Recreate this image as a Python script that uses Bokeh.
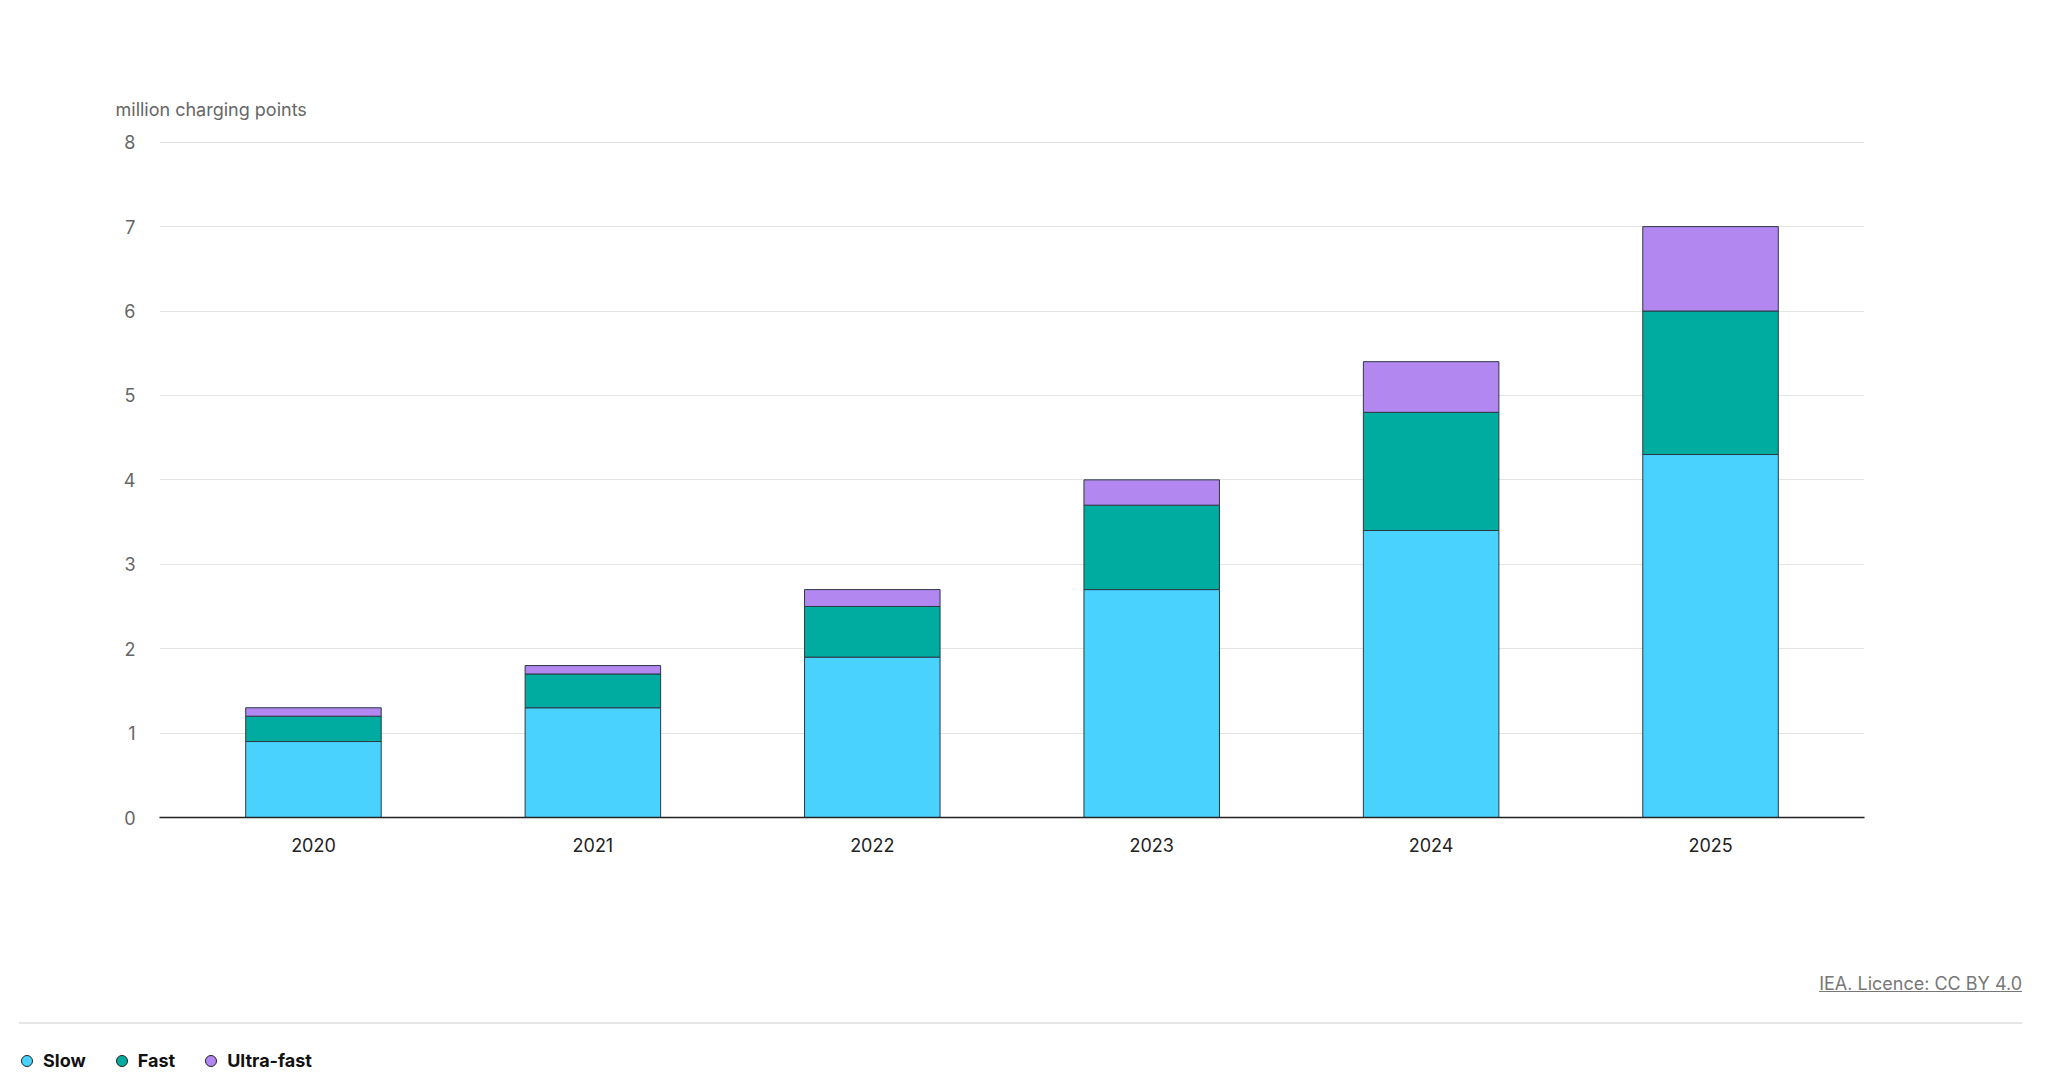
from bokeh.plotting import figure
from bokeh.models import FixedTicker, ColumnDataSource, Div
from bokeh.layouts import column
from bokeh.embed import file_html
from bokeh.resources import INLINE

years = ["2020", "2021", "2022", "2023", "2024", "2025"]
slow = [0.9, 1.3, 1.9, 2.7, 3.4, 4.3]
fast = [0.3, 0.4, 0.6, 1.0, 1.4, 1.7]
ultra = [0.1, 0.1, 0.2, 0.3, 0.6, 1.0]
series = ["Slow", "Fast", "Ultra-fast"]
colors = ["#4ad2ff", "#00ab9f", "#b287ef"]
FONT = "Inter"

W = 2030
p = figure(x_range=years, y_range=(0, 8.02), width=W, height=915, output_backend="svg",
           toolbar_location=None, frame_width=1705, frame_height=677,
           min_border_left=159, min_border_top=140, min_border_bottom=98, min_border_right=166,
           title="million charging points")
src = ColumnDataSource(dict(x=years, Slow=slow, Fast=fast, **{"Ultra-fast": ultra}))
p.vbar_stack(series, x="x", width=0.485, source=src, fill_color=colors,
             line_color="#2b3a44", line_width=1)

p.title.text_font = FONT
p.title.text_font_size = "18px"
p.title.text_font_style = "normal"
p.title.text_color = "#666666"
p.title.offset = -44
p.title.standoff = 42

p.outline_line_color = None
p.xgrid.grid_line_color = None
p.ygrid.grid_line_color = "#e3e3e3"
p.yaxis.ticker = FixedTicker(ticks=list(range(9)))
for ax in (p.xaxis, p.yaxis):
    ax.major_tick_line_color = None
    ax.minor_tick_line_color = None
    ax.major_label_text_font = FONT
    ax.major_label_text_font_size = "18px"
p.yaxis.axis_line_color = None
p.yaxis.major_label_text_color = "#666666"
p.yaxis.major_label_standoff = 18
p.xaxis.axis_line_color = "#222222"
p.xaxis.axis_line_width = 1.5
p.xaxis.major_label_text_color = "#222222"
p.xaxis.major_label_standoff = 14
p.x_range.range_padding = 0.017

def dot(c):
    return (f'<span style="display:inline-block;width:12px;height:12px;border-radius:50%;'
            f'background:{c};border:1px solid #222;margin-right:10px;vertical-align:middle"></span>')

legend_html = "".join(
    f'<span style="margin-right:30px">{dot(c)}<span style="vertical-align:middle">{s}</span></span>'
    for s, c in zip(series, colors))
html = f'''
<div style="width:{W}px;font-family:{FONT};font-size:18px">
 <div style="height:52px"></div>
 <div style="text-align:right;padding-right:13px;color:#777;text-decoration:underline;height:24px;line-height:24px">IEA. Licence: CC BY 4.0</div>
 <div style="height:26px"></div>
 <div style="margin:0 13px 0 14px;border-top:2px solid #e6e6e6"></div>
 <div style="height:24px"></div>
 <div style="padding-left:16px;font-weight:bold;color:#111;line-height:24px">{legend_html}</div>
</div>'''
d = Div(text=html, width=W, height=160)

open("out.html", "w").write(file_html(column(p, d, spacing=0), INLINE))
